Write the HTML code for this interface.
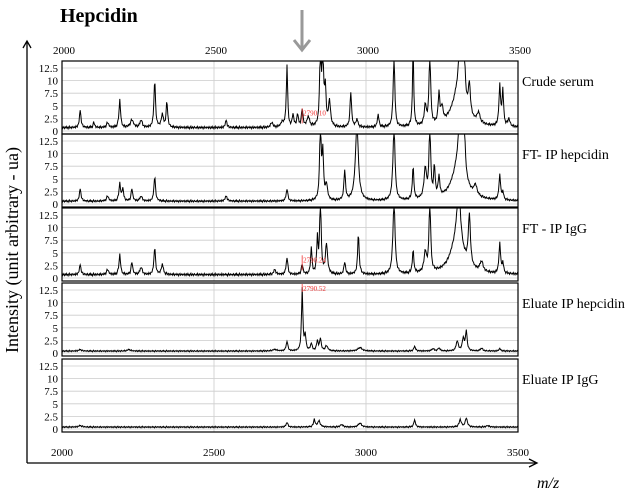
<!DOCTYPE html>
<html><head><meta charset="utf-8"><style>
body{margin:0;background:#fff}
svg text{font-family:"Liberation Serif",serif}
</style></head><body>
<svg id="c" width="638" height="491" xmlns="http://www.w3.org/2000/svg">
<text x="60" y="22" font-size="20" font-weight="bold">Hepcidin</text>
<g stroke="#999" stroke-width="3" fill="none">
<line x1="302" y1="10" x2="302" y2="48"/><polyline points="294,40 302,50 310,40"/></g>
<g stroke="#000" stroke-width="1.3" fill="none">
<line x1="27" y1="42" x2="27" y2="463"/><polyline points="23,48 27,41 31,48"/></g>
<g stroke="#000" stroke-width="1.3" fill="none">
<line x1="27" y1="463" x2="536" y2="463"/><polyline points="529,459 537,463 529,467"/></g>
<text transform="translate(18,250) rotate(-90)" text-anchor="middle" font-size="18">Intensity (unit arbitrary - ua)</text>
<text x="537" y="488" font-size="16" font-style="italic">m/z</text>
<g id="plots"></g>
</svg>
<script>
const xTicks=[2000,2500,3000,3500];
const yTicks=[0,2.5,5,7.5,10,12.5];
const panelNames=["Crude serum","FT- IP hepcidin","FT - IP IgG","Eluate IP hepcidin","Eluate IP IgG"];
const baseLevels=[0.6,0.5,0.6,0.35,0.35];
const noise=[0.3,-0.2,0.5,0.1,-0.3,0.4,0.0,0.6,-0.1,0.2,-0.4,0.3,0.7,-0.2,0.1,0.4,-0.3,0.2,0.5,-0.1,0.0,0.3,-0.2,0.6,0.1,-0.3,0.4,0.2,-0.1,0.5,0.0,0.3,-0.4,0.2,0.6,-0.2,0.1,0.4,-0.1,0.3];
// [mz, height, width]
const peaks1=[[2060,3.5,3],[2105,1,3],[2150,1,4],[2190,5.5,3],[2230,1.5,6],[2260,1.5,4],[2305,9.5,3],[2330,2.5,4],[2345,5,3],[2540,1.5,3],[2690,1,4],[2725,1,6],[2740,12.5,2.5],[2760,2.5,3],[2775,2.5,3],[2790,3.5,3],[2810,2,5],[2850,15,3],[2858,14,3],[2866,7,3],[2880,5,4],[2950,7,3],[2970,1.5,4],[3040,2.5,3],[3092,15,3],[3155,15,2.5],[3195,4,4],[3210,15,3],[3240,6,3],[3250,3,4],[3305,7,25],[3310,10,6],[3322,12,4],[3340,6,4],[3370,2,6],[3440,8,3],[3450,7,3],[3470,1.5,4]];
const peaks2=[[2060,2.5,3],[2150,1,4],[2190,3.5,3],[2200,2.5,3],[2230,2.5,3],[2260,1,4],[2305,5,3],[2540,1,4],[2740,2.5,3],[2850,15,3],[2858,9,3],[2870,3,4],[2930,6,3],[2970,15,6],[3092,15,4],[3155,6.5,3],[3195,6,5],[3210,15,3],[3225,6,3],[3240,4,3],[3305,7,25],[3310,12,6],[3322,12,4],[3360,2,6],[3440,5,3],[3450,1.5,3]];
const peaks3=[[2060,2,3],[2150,1,4],[2190,4,3],[2230,2.5,3],[2260,1.5,4],[2305,5.5,3],[2330,2,4],[2700,1,4],[2740,3.5,3],[2790,2,3],[2820,5.5,2.5],[2840,7,2.5],[2850,15,3],[2870,6,4],[2930,2.5,3],[2975,8,3],[3092,15,4],[3155,4.5,3],[3195,4,5],[3210,15,3],[3300,7,25],[3305,12,6],[3340,10,4],[3380,2,6],[3440,6,3],[3450,2,3]];
const peaks4=[[2060,0.3,5],[2220,0.3,6],[2700,0.3,8],[2740,2,3],[2790,12.5,2.5],[2800,3,3],[2820,1.5,3],[2840,2,3],[2850,2.5,3],[2870,1,5],[2980,0.7,8],[3160,1,3],[3220,0.5,4],[3240,0.6,4],[3300,2,4],[3320,2.5,4],[3330,4,3],[3380,0.6,4],[3440,0.5,3]];
const peaks5=[[2060,0.3,6],[2740,1,3],[2830,1.5,3],[2845,1.2,5],[2920,0.5,5],[2980,0.8,6],[3160,1.5,3],[3310,1.5,4],[3330,1.8,4],[3400,0.3,5]];
const allPeaks=[peaks1,peaks2,peaks3,peaks4,peaks5];
const annotations=[[0,2790,"2790.10"],[2,2790,"2790.24"],[3,2790,"2790.52"]];
const L=62,R=518,tops=[61,134,208,283,359],H=73;
const NS="http://www.w3.org/2000/svg";
const xs=v=>L+(v-2000)/1500*(R-L);
const g=document.getElementById('plots');
function mk(t,a,p){const e=document.createElementNS(NS,t);for(const k in a)e.setAttribute(k,a[k]);(p||g).appendChild(e);return e;}
const ys=(top,v)=>top+H-3-v*(H-10)/12.5;
xTicks.forEach(t=>{
 const a=mk('text',{x:xs(t)+2,y:54,'text-anchor':'middle','font-size':11});a.textContent=t;
 
 
 const b=mk('text',{x:xs(t),y:456,'text-anchor':'middle','font-size':11});b.textContent=t;
 
 
});
tops.forEach((top,i)=>{
 const pg=mk('g',{});
 
 
 const cp=mk('clipPath',{id:'cp'+i},pg);
 mk('rect',{x:L,y:top,width:R-L,height:H},cp);
 yTicks.forEach(t=>{
  mk('line',{x1:L,x2:R,y1:ys(top,t),y2:ys(top,t),stroke:'#ccc','stroke-width':0.8},pg);
  const tx=mk('text',{x:58,y:ys(top,t)+4,'text-anchor':'end','font-size':11},pg);tx.textContent=t;
  
  
 });
 xTicks.slice(1,3).forEach(t=>mk('line',{x1:xs(t),x2:xs(t),y1:top,y2:top+H,stroke:'#ccc','stroke-width':0.8},pg));
 let d='';const pk=allPeaks[i];let k=0;
 for(let m=2000;m<=3500;m+=2,k++){
  let v=baseLevels[i]+noise[k%noise.length]*baseLevels[i]*0.8;
  pk.forEach(p=>{const z=(m-p[0])/p[2];v+=p[1]/(1+z*z);});
  d+=(m===2000?'M':'L')+xs(m).toFixed(1)+','+Math.max(ys(top,14),ys(top,v)).toFixed(1);
 }
 const path=mk('path',{d:d,fill:'none',stroke:'#000','stroke-width':1,'clip-path':'url(#cp'+i+')'},pg);
 
 
 annotations.filter(a=>a[0]===i).forEach(a=>{
  const x=xs(a[1]);const yy=i===3?top+1:ys(top,4.5);
  mk('line',{x1:x,x2:x,y1:yy,y2:i===3?yy+8:ys(top,1.5),stroke:'#e33','stroke-width':0.8},pg);
  const at=mk('text',{x:x+1,y:yy+7,'font-size':7,fill:'#e33','font-family':'Liberation Sans'},pg);at.textContent=a[2];
  
  
 });
 mk('rect',{x:L,y:top,width:R-L,height:H,fill:'none',stroke:'#000','stroke-width':1.2},pg);
 const nm=mk('text',{x:522,y:top+25,'font-size':14},pg);nm.textContent=panelNames[i];
 
 
});
</script>
</body></html>
